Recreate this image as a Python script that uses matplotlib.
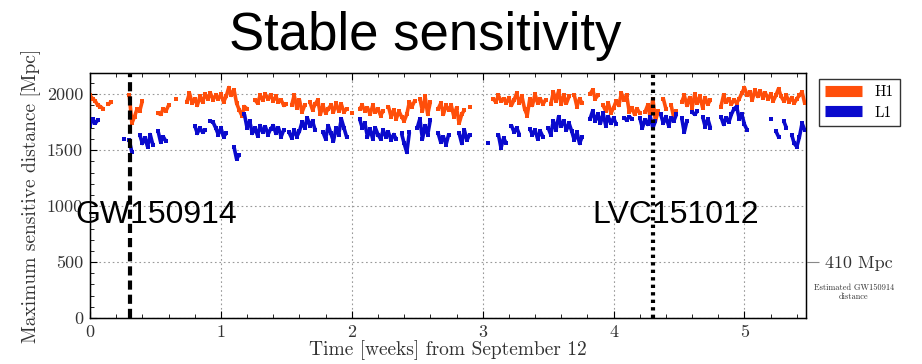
import numpy as np
import matplotlib
matplotlib.use("Agg")
import matplotlib.pyplot as plt
from matplotlib.ticker import MultipleLocator

N = None
step_weeks = 0.02

h1_mpc = [
    1990, 1960, 1940, 1900, 1890, 1870, N, 1910, 1930, N,
    N, N, N, N, N, 1990, 1740, 1800, 1870, 1850,
    1940, N, N, N, N, N, 1830, 1820, 1870, 1850,
    1900, N, N, 1960, N, N, N, 1930, 2010, 1920,
    1960, 1900, 1980, 1930, 2000, 1960, 2010, 1950, 1990, 1960,
    2000, 1930, 1980, 2060, 1990, 2040, 1920, 1860, 1810, 1890,
    1870, N, N, 1950, 1920, 1990, 1950, 2000, 1960, 1990,
    1940, 1980, 1930, 1950, 1900, 1910, N, 1900, 1990, 1880,
    1950, 1840, 1900, N, 1930, 1860, 1910, 1950, 1820, 1900,
    1830, 1870, 1900, 1840, 1920, 1850, 1910, 1840, 1870, N,
    1830, N, N, 1870, 1900, 1850, 1880, 1820, 1900, 1840,
    1870, 1810, 1850, N, 1890, 1800, 1860, 1780, 1850, 1800,
    1760, 1820, 1930, 1890, 1940, N, 1960, 1850, 1980, 1820,
    1930, N, N, 1870, 1920, 1820, 1900, 1860, 1900, 1800,
    1880, 1740, 1820, 1860, N, 1890, N, N, N, N,
    N, N, N, N, 1960, 1930, 1990, 1940, 1960, 1920,
    1970, 1900, 1950, 2010, 1920, 1980, 1870, 1810, 1960, 1900,
    2000, 1920, 1960, 1910, 1950, N, 1910, 2020, 1940, 2030,
    1910, 1990, 1920, 1980, N, 1990, 1890, 1960, 1920, N,
    N, 2000, 2040, 1960, 1990, N, 1900, 1850, 1920, 1830,
    1880, 1940, 1900, 2010, 1950, 1990, 1840, 1880, 1820, 1870,
    1830, N, 1840, 1900, 1800, 1960, 1760, 1850, N, 1960,
    1870, N, 1900, 1790, 1850, N, 1930, 1990, 1900, 1970,
    1880, 2000, 1920, 1980, 1880, 1970, 1910, 1950, N, N,
    N, 1890, 1990, 1930, 1960, 1910, 1950, 1920, 1960, 2010,
    2060, 1990, 2020, 1950, 2040, 1980, 2030, 1970, 2010, 1960,
    2000, 1940, 1990, 2050, 1980, 1940, 1990, 1930, 1970, 1920,
    1960, 1990, 2020, 1920,
]

l1_mpc = [
    1720, 1780, 1740, 1770, N, N, N, N, N, N,
    N, N, N, 1600, N, 1590, 1480, N, N, 1640,
    1560, 1610, 1530, 1640, 1550, N, 1670, 1570, 1620, 1580,
    N, N, N, N, N, N, N, N, N, N,
    1720, 1650, 1700, 1660, 1680, N, 1760, 1750, 1700, 1640,
    1700, 1620, 1650, N, N, 1530, 1420, 1460, N, 1820,
    1700, 1760, 1650, 1700, 1630, 1720, 1660, 1710, 1640, 1690,
    1720, 1650, 1700, 1620, 1680, N, 1660, 1610, 1680, 1620,
    1670, 1750, 1700, 1790, 1720, 1760, 1680, N, N, 1660,
    1600, 1720, 1650, 1580, 1700, 1640, 1780, 1700, 1620, N,
    N, N, N, 1780, 1700, 1740, 1620, 1690, 1600, 1700,
    1640, 1600, 1680, 1620, 1660, 1590, 1640, 1600, N, 1650,
    1560, 1480, 1660, N, N, 1700, 1780, 1600, 1720, 1640,
    1770, N, N, 1650, 1570, 1620, 1550, 1640, N, N,
    N, 1650, 1560, 1680, 1590, 1640, N, N, N, N,
    N, N, 1560, N, N, N, 1640, 1520, 1610, 1560,
    N, 1720, 1660, 1700, 1640, N, N, N, 1690, 1640,
    1680, 1600, 1670, 1620, N, 1700, 1640, 1760, 1680, 1800,
    1720, 1760, 1680, 1740, 1670, 1590, 1660, 1560, 1620, N,
    N, 1780, 1850, 1760, 1820, 1740, 1830, 1720, 1800, 1740,
    1790, 1730, N, N, 1790, 1770, 1800, 1780, N, N,
    1790, 1700, 1770, 1730, 1800, 1700, 1760, N, 1820, 1740,
    1800, 1720, 1790, 1760, 1820, N, 1790, 1660, 1760, N,
    1840, 1820, 1850, N, 1800, 1710, 1780, 1700, N, N,
    N, 1800, 1730, 1790, 1750, 1820, 1870, 1890, 1780, 1820,
    1730, 1680, N, N, N, N, N, N, N, N,
    1780, N, 1670, 1620, N, 1760, 1700, N, 1640, 1560,
    1530, 1620, 1740, 1680,
]

series_names = ["H1", "L1"]
series_colors = ["#FF4E0A", "#0A0ACD"]
event_names = ["GW150914", "LVC151012"]
event_weeks = [0.305, 4.30]
x_ticks = [0, 1, 2, 3, 4, 5]
y_ticks = [0, 500, 1000, 1500, 2000]
right_tick_value = 500
right_tick_label = "410 Mpc"

W, H = 922, 364
fig = plt.figure(figsize=(W / 100, H / 100), dpi=100)
ax = fig.add_axes([90 / W, 1 - 318 / H, (806 - 90) / W, (318 - 73) / H])

serif = "cmr10"

for vals, name, col in zip([h1_mpc, l1_mpc], series_names, series_colors):
    y = np.array([np.nan if v is None else v for v in vals], dtype=float)
    t = np.arange(len(y)) * step_weeks
    ax.plot(t, y, color=col, lw=2.6, solid_capstyle="butt", label=name,
            marker="s", ms=2.2, mec=col, mew=0, zorder=3)

ax.axvline(event_weeks[0], color="black", lw=3, ls=(0, (2.2, 1.2)), zorder=4)
ax.axvline(event_weeks[1], color="black", lw=3, ls=(0, (0.8, 1.0)), zorder=4)

ax.set_xlim(0, 5.47)
ax.set_ylim(0, 2190)
ax.set_xticks(x_ticks)
ax.set_yticks(y_ticks)
ax.xaxis.set_minor_locator(MultipleLocator(0.2))
ax.yaxis.set_minor_locator(MultipleLocator(100))
ax.tick_params(which="both", direction="in", top=True, right=False,
               labelsize=13, pad=5)
ax.tick_params(which="major", length=5)
ax.tick_params(which="minor", length=3)
for lbl in ax.get_xticklabels() + ax.get_yticklabels():
    lbl.set_fontfamily(serif)
    lbl.set_color("#333333")
ax.grid(True, which="major", ls=(0, (1.5, 2.5)), color="#999999", lw=0.8)
for s in ax.spines.values():
    s.set_linewidth(1.0)

ax.set_xlabel("Time [weeks] from September 12", fontfamily=serif,
              fontsize=14, color="#333333", labelpad=0)
ax.set_ylabel("Maximum sensitive distance [Mpc]", fontfamily=serif,
              fontsize=14, color="#333333", labelpad=4)

# right-side reference tick
ax2 = ax.twinx()
ax2.set_ylim(ax.get_ylim())
ax2.set_yticks([right_tick_value])
ax2.set_yticklabels([right_tick_label], fontfamily=serif, fontsize=13,
                    color="#333333")
ax2.tick_params(axis="y", direction="out", length=9, color="#888888", pad=5)
ax2.text(1.067, 0.105, "Estimated GW150914\ndistance", transform=ax.transAxes,
         ha="center", va="center", fontsize=6, fontfamily=serif,
         color="#333333", linespacing=1.0)

leg = ax.legend(loc="upper left", bbox_to_anchor=(1.008, 1.005),
                prop={"family": serif, "size": 11}, handlelength=2.4,
                handleheight=0.7, borderpad=0.4, labelspacing=0.45,
                fancybox=False, edgecolor="#333333", framealpha=1)
for line in leg.get_lines():
    line.set_linewidth(8)
    line.set_marker("")

fig.text(425 / W, 1 - 36 / H, "Stable sensitivity", ha="center",
         va="center", fontsize=38, family="Liberation Sans")
fig.text(75 / W, 1 - 215 / H, event_names[0], ha="left", va="center",
         fontsize=23, family="Liberation Sans", zorder=10)
fig.text(592 / W, 1 - 215 / H, event_names[1], ha="left", va="center",
         fontsize=23, family="Liberation Sans", zorder=10)

fig.savefig("out.png", dpi=100)
